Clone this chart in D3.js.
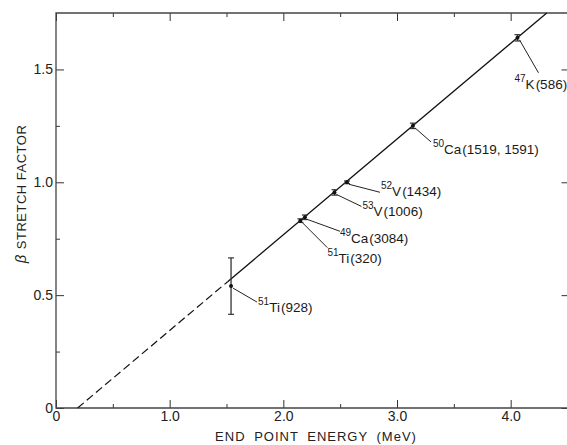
<!DOCTYPE html>
<html>
<head>
<meta charset="utf-8">
<script src="https://cdn.jsdelivr.net/npm/d3@7"></script>
<style>
  body { margin: 0; background: #fff; }
  svg { display: block; font-family: "Liberation Sans", Arial, sans-serif; }
  .axis text { font-size: 14px; fill: #222; }
  .axis line { stroke: #333; }
  .lbl { font-size: 13.5px; fill: #1a1a1a; }
</style>
</head>
<body>
<div id="chart"></div>
<script>
// data
const massNumber = [51, 51, 49, 53, 52, 50, 47]
const element = ["Ti", "Ti", "Ca", "V", "V", "Ca", "K"]
const counts = ["928", "320", "3084", "1006", "1434", "1519, 1591", "586"]
const energy = [1.54, 2.15, 2.19, 2.45, 2.56, 3.14, 4.06]
const stretch = [0.54, 0.83, 0.845, 0.955, 1.0, 1.25, 1.64]
const errBar = [0.125, 0.008, 0.01, 0.012, 0.006, 0.012, 0.014]

// fitted line: intercept on energy axis, dashed part end, slope
const fitIntercept = 0.19
const fitDashEnd = 1.51
const fitSlope = 0.424

const xMajor = [0, 1, 2, 3, 4]
const xMinor = [0.5, 1.5, 2.5, 3.5]
const yMajor = [0, 0.5, 1.0, 1.5]
const yMinor = [0.25, 0.75, 1.25]

// leader line end + label anchor, offsets in px from the point (layout only)
const labelLayout = [
  { lx: 26, ly: 16, tx: 27, ty: 26 },
  { lx: 27, ly: 27, tx: 27, ty: 42 },
  { lx: 35, ly: 14, tx: 35, ty: 26 },
  { lx: 27, ly: 14, tx: 28, ty: 24 },
  { lx: 33, ly: 10, tx: 34, ty: 14 },
  { lx: 18, ly: 16, tx: 20, ty: 28 },
  { lx: 21, ly: 35, tx: -3, ty: 51 }
]

const W = 567, H = 445
const X0 = 56, X1 = 567.5, Y0 = 408, Y1 = 13

const svg = d3.select("#chart").append("svg")
  .attr("width", W)
  .attr("height", H)

const x = d3.scaleLinear().domain([0, 4.5]).range([X0, X1])
const y = d3.scaleLinear().domain([0, 1.75]).range([Y0, Y1])

// Axes (ticks point inwards)
svg.append("g").attr("class", "axis")
  .attr("transform", `translate(0, ${Y0})`)
  .call(d3.axisBottom(x).tickValues(xMajor).tickSize(-8).tickPadding(3)
    .tickFormat(d => d === 0 ? "0" : d3.format(".1f")(d)))
svg.append("g").attr("class", "axis")
  .attr("transform", `translate(0, ${Y0})`)
  .call(d3.axisBottom(x).tickValues(xMinor).tickSize(-4).tickFormat(""))
svg.append("g").attr("class", "axis")
  .attr("transform", `translate(0, ${Y1})`)
  .call(d3.axisTop(x).tickValues(xMajor).tickSize(-8).tickFormat(""))
svg.append("g").attr("class", "axis")
  .attr("transform", `translate(0, ${Y1})`)
  .call(d3.axisTop(x).tickValues(xMinor).tickSize(-4).tickFormat(""))

svg.append("g").attr("class", "axis")
  .attr("transform", `translate(${X0}, 0)`)
  .call(d3.axisLeft(y).tickValues(yMajor).tickSize(-8).tickPadding(3)
    .tickFormat(d => d === 0 ? "0" : d3.format(".1f")(d)))
svg.append("g").attr("class", "axis")
  .attr("transform", `translate(${X0}, 0)`)
  .call(d3.axisLeft(y).tickValues(yMinor).tickSize(-4).tickFormat(""))
svg.append("g").attr("class", "axis")
  .attr("transform", `translate(${X1}, 0)`)
  .call(d3.axisRight(y).tickValues(yMajor).tickSize(-6).tickFormat(""))

svg.selectAll(".axis .domain").remove()

// frame
svg.append("path")
  .attr("d", `M${X1},${Y1}H${X0}V${Y0}H${X1}`)
  .attr("fill", "none")
  .attr("stroke", "#444")
  .attr("stroke-width", 1.3)

// fit line
const fitY = e => fitSlope * (e - fitIntercept)
const eTop = fitIntercept + 1.75 / fitSlope
svg.append("line")
  .attr("x1", x(fitIntercept)).attr("y1", y(0))
  .attr("x2", x(fitDashEnd)).attr("y2", y(fitY(fitDashEnd)))
  .attr("stroke", "#111").attr("stroke-width", 1.2)
  .attr("stroke-dasharray", "8,4")
svg.append("line")
  .attr("x1", x(fitDashEnd)).attr("y1", y(fitY(fitDashEnd)))
  .attr("x2", x(eTop)).attr("y2", y(1.75))
  .attr("stroke", "#111").attr("stroke-width", 1.3)

// points with error bars
const pts = energy.map((e, i) => ({
  e, s: stretch[i], err: errBar[i],
  a: massNumber[i], el: element[i], c: counts[i], lay: labelLayout[i]
}))

const pg = svg.selectAll(".pt").data(pts).enter().append("g").attr("class", "pt")
pg.append("line")
  .attr("x1", d => x(d.e)).attr("x2", d => x(d.e))
  .attr("y1", d => y(d.s - d.err)).attr("y2", d => y(d.s + d.err))
  .attr("stroke", "#333").attr("stroke-width", 1.3)
pg.selectAll(".cap").data(d => [d.s - d.err, d.s + d.err].map(v => ({ e: d.e, v })))
  .enter().append("line")
  .attr("x1", d => x(d.e) - 3).attr("x2", d => x(d.e) + 3)
  .attr("y1", d => y(d.v)).attr("y2", d => y(d.v))
  .attr("stroke", "#333").attr("stroke-width", 1.2)
pg.append("circle")
  .attr("cx", d => x(d.e)).attr("cy", d => y(d.s))
  .attr("r", 2).attr("fill", "#111")

// leaders
pg.append("line")
  .attr("x1", d => x(d.e) + 2).attr("y1", d => y(d.s) + 2)
  .attr("x2", d => x(d.e) + d.lay.lx).attr("y2", d => y(d.s) + d.lay.ly)
  .attr("stroke", "#222").attr("stroke-width", 1)

// labels
const txt = pg.append("text").attr("class", "lbl")
  .attr("x", d => x(d.e) + d.lay.tx)
  .attr("y", d => y(d.s) + d.lay.ty)
txt.append("tspan").attr("font-size", "10px").attr("dy", -7).text(d => d.a)
txt.append("tspan").attr("dy", 7).text(d => d.el)
txt.append("tspan").attr("dx", 1).text(d => `(${d.c})`)

// axis titles
svg.append("text")
  .attr("x", 316).attr("y", 441)
  .attr("text-anchor", "middle")
  .attr("font-size", "13px")
  .attr("letter-spacing", "1px")
  .attr("word-spacing", "4px")
  .attr("fill", "#222")
  .text("END POINT ENERGY (MeV)")

svg.append("text")
  .attr("transform", "translate(26, 194) rotate(-90)")
  .attr("text-anchor", "middle")
  .attr("font-size", "13px")
  .attr("letter-spacing", "0.5px")
  .attr("fill", "#222")
  .html('<tspan font-style="italic" font-size="15px">β</tspan><tspan dx="5">STRETCH FACTOR</tspan>')
</script>
</body>
</html>
